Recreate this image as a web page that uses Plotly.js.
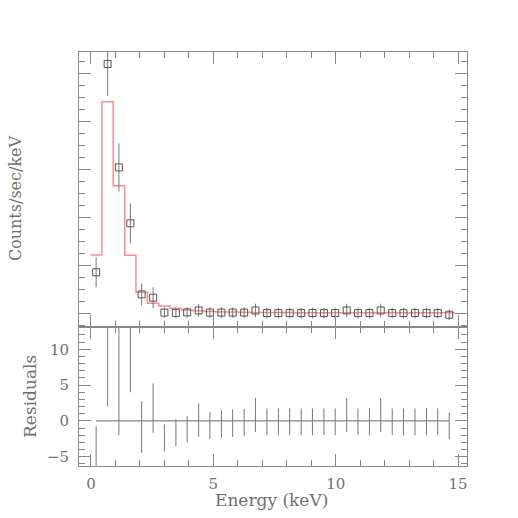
<!DOCTYPE html>
<html>
<head>
<meta charset="utf-8">
<script src="https://cdn.plot.ly/plotly-3.0.1.min.js"></script>
<style>
	html, body { margin: 0; padding: 0; background: #fff; }
	#spectrum { width: 518px; height: 518px; }
</style>
</head>
<body>
<div id="spectrum"></div>
<script>
// Spectrum data (bin centres in keV).
var energies = [ 0.21, 0.68, 1.14, 1.61, 2.07, 2.54, 3.00, 3.47, 3.93, 4.40, 4.86, 5.33, 5.79, 6.26, 6.72, 7.19,
	7.66, 8.12, 8.59, 9.05, 9.52, 9.98, 10.45, 10.91, 11.38, 11.84, 12.31, 12.77, 13.24, 13.71, 14.17, 14.64 ];
var binHalf = 0.233;

// Counts/sec/keV with 1 sigma errors.
var counts = [ 0.171, 1.039, 0.608, 0.375, 0.079, 0.065, 0.003, 0.002, 0.004, 0.012, 0.003, 0.003, 0.003, 0.003, 0.012, 0.001,
	0.001, 0.001, 0.001, 0.001, 0.001, 0.001, 0.012, 0.001, 0.001, 0.012, 0.001, 0.001, 0.001, 0.001, 0.001, -0.006 ];
var countErr = [ 0.0625, 0.133, 0.100, 0.083, 0.046, 0.044, 0.022, 0.022, 0.022, 0.027, 0.022, 0.023, 0.022, 0.022, 0.028, 0.022,
	0.022, 0.022, 0.022, 0.022, 0.022, 0.022, 0.028, 0.022, 0.022, 0.028, 0.022, 0.022, 0.022, 0.022, 0.022, 0.022 ];

// Folded model (histogram).
var model = [ 0.243, 0.882, 0.532, 0.242, 0.0875, 0.042, 0.031, 0.021, 0.014, 0.011, 0.008, 0.006, 0.005, 0.004, 0.003, 0.003,
	0.003, 0.003, 0.002, 0.002, 0.002, 0.002, 0.002, 0.002, 0.002, 0.002, 0.002, 0.002, 0.002, 0.002, 0.002, 0.002 ];

// Residuals and their errors.
var resid = [ -6.1, 13.4, 6.5, 11.3, -0.86, 1.77, -2.37, -1.65, -1.17, 0.10, -0.65, -0.44, -0.32, -0.21, 0.83, -0.13,
	-0.13, -0.13, -0.13, -0.13, -0.13, -0.13, 0.83, -0.13, -0.13, 0.83, -0.13, -0.13, -0.13, -0.13, -0.13, -0.71 ];
var residErr = [ 5.36, 11.4, 8.5, 7.3, 3.6, 3.45, 1.87, 1.89, 1.84, 2.33, 1.87, 1.93, 1.91, 1.89, 2.37, 1.87,
	1.87, 1.87, 1.87, 1.87, 1.87, 1.87, 2.37, 1.87, 1.87, 2.37, 1.87, 1.87, 1.87, 1.87, 1.87, 1.88 ];


// Histogram edges for the model step line.
var modelX = energies.map( e => e - binHalf );
modelX.push( energies[ energies.length - 1 ] + binHalf );
var modelY = model.slice();
modelY.push( model[ model.length - 1 ] );

var fontFam = "DejaVu Serif",
	textCol = "#707070",
	frameCol = "#888",
	tickCol = "#888";

var traces = [
	{
		x: modelX, y: modelY, xaxis: "x2", yaxis: "y2",
		type: "scatter", mode: "lines",
		line: { shape: "hv", color: "#ff8c8c", width: 1.5 },
		hoverinfo: "skip"
	},
	{
		x: energies, y: counts, xaxis: "x2", yaxis: "y2",
		type: "scatter", mode: "markers",
		marker: { symbol: "square-open", size: 7, color: "#555", line: { width: 1, color: "#555" } },
		error_y: { type: "data", array: countErr, visible: true, thickness: 1, width: 0, color: "#777" }
	},
	{
		x: energies, y: energies.map( () => 0 ), xaxis: "x", yaxis: "y",
		type: "scatter", mode: "lines",
		line: { color: "#666", width: 1 }
	},
	{
		x: energies, y: resid, xaxis: "x", yaxis: "y",
		type: "scatter", mode: "markers",
		marker: { size: 1, opacity: 0 },
		error_y: { type: "data", array: residErr, visible: true, thickness: 1, width: 0, color: "#777" }
	}
];

var tickFont = { family: fontFam, size: 15, color: textCol };

function axisBase( extra )
{
	var ax = {
		showline: true, linecolor: frameCol, linewidth: 1,
		mirror: "ticks",
		ticks: "inside", ticklen: 12, tickwidth: 1, tickcolor: tickCol,
		showgrid: false, zeroline: false,
		tickfont: tickFont,
		fixedrange: true
	};
	for( var k in extra )
		ax[ k ] = extra[ k ];
	return ax;
}

var split = 0.335;

var layout = {
	width: 518, height: 518,
	margin: { l: 79, r: 51, t: 52, b: 52 },
	paper_bgcolor: "#fff", plot_bgcolor: "#fff",
	showlegend: false,
	font: { family: fontFam, color: textCol },
	xaxis: axisBase( {
		domain: [ 0, 1 ], anchor: "y",
		range: [ -0.49, 15.366 ],
		tick0: 0, dtick: 5,
		ticklabelstandoff: 4,
		minor: { dtick: 1, ticks: "inside", ticklen: 6, tickcolor: tickCol, tickwidth: 1 }
	} ),
	yaxis: axisBase( {
		domain: [ 0, split ], anchor: "x",
		range: [ -6.3, 13.07 ],
		tick0: 0, dtick: 5,
		ticklabelstandoff: 6,
		minor: { dtick: 1, ticks: "inside", ticklen: 6, tickcolor: tickCol, tickwidth: 1 }
	} ),
	xaxis2: axisBase( {
		domain: [ 0, 1 ], anchor: "y2", matches: "x",
		range: [ -0.49, 15.366 ],
		tick0: 0, dtick: 5,
		showticklabels: false,
		minor: { dtick: 1, ticks: "inside", ticklen: 6, tickcolor: tickCol, tickwidth: 1 }
	} ),
	yaxis2: axisBase( {
		domain: [ split, 1 ], anchor: "x2",
		range: [ -0.0583, 1.0888 ],
		tick0: 0, dtick: 0.2,
		showticklabels: false,
		minor: { dtick: 0.05, ticks: "inside", ticklen: 6, tickcolor: tickCol, tickwidth: 1 }
	} ),
	annotations: [
		{
			text: "Energy (keV)", xref: "paper", yref: "paper",
			x: 0.497, y: -0.082, xanchor: "center", yanchor: "middle",
			showarrow: false, font: { family: fontFam, size: 17, color: textCol }
		},
		{
			text: "Counts/sec/keV", xref: "paper", yref: "paper",
			x: -0.165, y: 0.647, xanchor: "center", yanchor: "middle", textangle: -90,
			showarrow: false, font: { family: fontFam, size: 16, color: textCol }
		},
		{
			text: "Residuals", xref: "paper", yref: "paper",
			x: -0.125, y: 0.168, xanchor: "center", yanchor: "middle", textangle: -90,
			showarrow: false, font: { family: fontFam, size: 17, color: textCol }
		}
	]
};

Plotly.newPlot( "spectrum", traces, layout, { staticPlot: true } );
</script>
</body>
</html>
